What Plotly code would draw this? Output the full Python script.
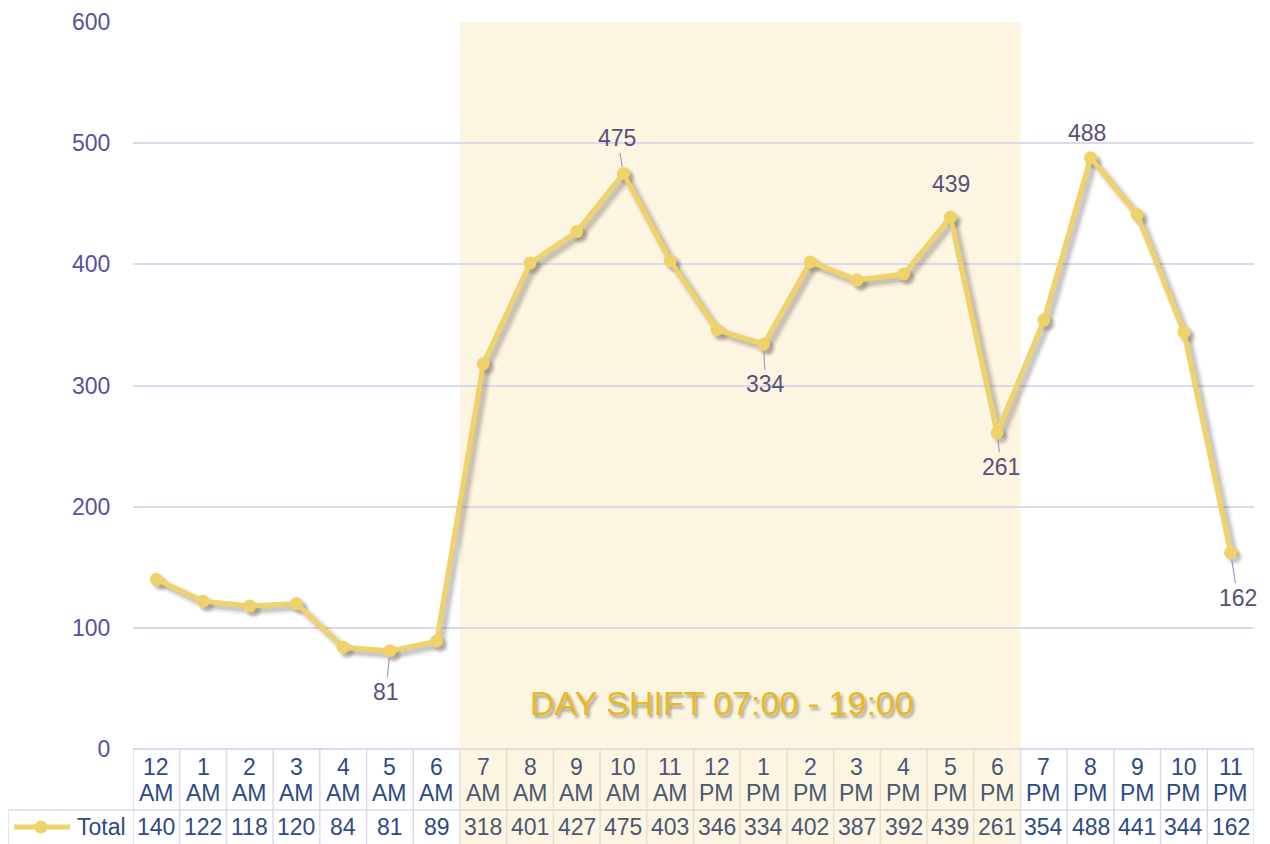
import plotly.graph_objects as go

hours = ["12 AM", "1 AM", "2 AM", "3 AM", "4 AM", "5 AM", "6 AM", "7 AM", "8 AM", "9 AM",
         "10 AM", "11 AM", "12 PM", "1 PM", "2 PM", "3 PM", "4 PM", "5 PM", "6 PM",
         "7 PM", "8 PM", "9 PM", "10 PM", "11 PM"]
totals = [140, 122, 118, 120, 84, 81, 89, 318, 401, 427, 475, 403, 346, 334, 402,
          387, 392, 439, 261, 354, 488, 441, 344, 162]
y_ticks = [0, 100, 200, 300, 400, 500, 600]
day_shift_start, day_shift_end = "7 AM", "6 PM"
shift_label = "DAY SHIFT 07:00 - 19:00"
# labelled points: (hour, dx px, dy px, leader line)
labelled = [("5 AM", -4, 41, True), ("10 AM", -6, -35, True), ("1 PM", 2, 40, True),
            ("5 PM", 1, -33, False), ("6 PM", 4, 34, True), ("8 PM", -4, -25, False),
            ("11 PM", 7, 45, True)]

FONT = "Liberation Sans, Arial, sans-serif"
FS = 23
LINE = "#f0d26a"
GRID = "#dcd9ee"
CREAM = "#fcf5e2"
BEIGE = "#e8dfd2"
TXT_BLUE = "#2d4b85"
TXT_GRAY = "#4c5872"
LABEL = "#595078"

OFF = 8  # default page body margin
W, H = 1270, 844
L, R, T, B = 133, 16, 22, 0
plot_w = W - L - R
n = len(hours)
cat_px = plot_w / n
y_top = 600
k = (749 - T) / y_top          # px per unit


def py(px):
    return -(px - 749) / k


y_min = py(H)
row_div = py(810)
hdr1_y = py(767)
hdr2_y = py(793)
val_y = py(827)

s0 = hours.index(day_shift_start)
s1 = hours.index(day_shift_end)

fig = go.Figure()

# shadow of line (drawn on shifted overlay axes)
dx = 4 / cat_px
dy = 4 / k
for wid, msz, alpha in [(12, 17, 0.07), (8, 14, 0.10), (5, 11, 0.12)]:
    fig.add_trace(go.Scatter(x=list(range(n)), y=totals, mode="lines+markers",
                             line=dict(color=f"rgba(70,60,40,{alpha})", width=wid),
                             marker=dict(size=msz, color=f"rgba(70,60,40,{alpha})"),
                             xaxis="x2", yaxis="y2", hoverinfo="skip", showlegend=False))
fig.add_trace(go.Scatter(x=list(range(n)), y=totals, mode="lines+markers", name="Total",
                         line=dict(color=LINE, width=5),
                         marker=dict(size=13, color=LINE), showlegend=False,
                         xaxis="x3", yaxis="y3"))

shapes = []
shapes.append(dict(type="rect", xref="x", yref="y", x0=s0 - 0.5, x1=s1 + 0.5,
                   y0=y_min, y1=y_top, fillcolor=CREAM, line=dict(width=0), layer="below"))
for i in range(n + 1):
    xb = i - 0.5
    inside = s0 < i <= s1
    shapes.append(dict(type="line", xref="x", yref="y", x0=xb, x1=xb, y0=y_min, y1=0,
                       line=dict(color=BEIGE if inside else GRID, width=1.5)))
shapes.append(dict(type="line", xref="paper", yref="y", x0=(8 - L) / plot_w, x1=1,
                   y0=row_div, y1=row_div, line=dict(color=GRID, width=1.5)))
shapes.append(dict(type="line", xref="x", yref="y", x0=s0 - 0.5, x1=s1 + 0.5,
                   y0=row_div, y1=row_div, line=dict(color=BEIGE, width=1.5)))
shapes.append(dict(type="line", xref="x", yref="y", x0=s0 - 0.5, x1=s1 + 0.5,
                   y0=0, y1=0, line=dict(color=BEIGE, width=1.5)))
shapes.append(dict(type="line", xref="paper", yref="y", x0=(8 - L) / plot_w, x1=(8 - L) / plot_w,
                   y0=y_min, y1=row_div, line=dict(color=GRID, width=1.5)))
shapes.append(dict(type="line", xref="paper", yref="y", x0=(14 - L) / plot_w, x1=(70 - L) / plot_w,
                   y0=val_y, y1=val_y, line=dict(color=LINE, width=5)))
r_px = 6.5
shapes.append(dict(type="circle", xref="paper", yref="y",
                   x0=(41 - r_px - L) / plot_w, x1=(41 + r_px - L) / plot_w,
                   y0=val_y - r_px / k, y1=val_y + r_px / k,
                   fillcolor=LINE, line=dict(width=0)))

annotations = []
for i, (h, v) in enumerate(zip(hours, totals)):
    inside = s0 <= i <= s1
    col = TXT_GRAY if inside else TXT_BLUE
    num, ap = h.split(" ")
    for txt, yy in [(num, hdr1_y), (ap, hdr2_y), (str(v), val_y)]:
        annotations.append(dict(x=i, y=yy, xref="x", yref="y", text=txt,
                                showarrow=False, font=dict(family=FONT, size=FS, color=col)))
annotations.append(dict(x=(128 - L) / plot_w, y=val_y, xref="paper", yref="y", text="Total",
                        xanchor="right", showarrow=False,
                        font=dict(family=FONT, size=FS, color=TXT_BLUE)))

for h, ax, ay, lead in labelled:
    i = hours.index(h)
    annotations.append(dict(x=i, y=totals[i], xref="x", yref="y", text=str(totals[i]),
                            showarrow=True, ax=ax, ay=ay, arrowhead=0, arrowwidth=1.2,
                            arrowcolor="#a39bc9" if lead else "rgba(0,0,0,0)", standoff=7,
                            font=dict(family=FONT, size=FS, color=LABEL)))

annotations.append(dict(x=(s0 + s1) / 2 - 0.4, y=38, xref="x", yref="y", text=shift_label,
                        showarrow=False,
                        font=dict(family=FONT, size=34, color="#e9b922",
                                  shadow="2px 3px 3px rgba(0,0,0,0.35)")))

fig.update_layout(
    width=W - OFF, height=H - OFF,
    margin=dict(l=L - OFF, r=R, t=T - OFF, b=B),
    paper_bgcolor="white", plot_bgcolor="white",
    showlegend=False,
    shapes=shapes, annotations=annotations,
    xaxis=dict(range=[-0.5, n - 0.5], visible=False),
    xaxis2=dict(range=[-0.5 - dx, n - 0.5 - dx], overlaying="x", visible=False),
    xaxis3=dict(range=[-0.5, n - 0.5], overlaying="x", visible=False),
    yaxis=dict(range=[y_min, y_top], tickvals=y_ticks, showgrid=True, gridcolor=GRID,
               gridwidth=1.5, zeroline=False, showline=False, ticks="outside", ticklen=17,
               tickcolor="rgba(0,0,0,0)",
               tickfont=dict(family=FONT, size=FS, color="#5b4f9e")),
    yaxis2=dict(range=[y_min + dy, y_top + dy], overlaying="y", visible=False),
    yaxis3=dict(range=[y_min, y_top], overlaying="y", visible=False),
)

fig.write_html("out.html")
